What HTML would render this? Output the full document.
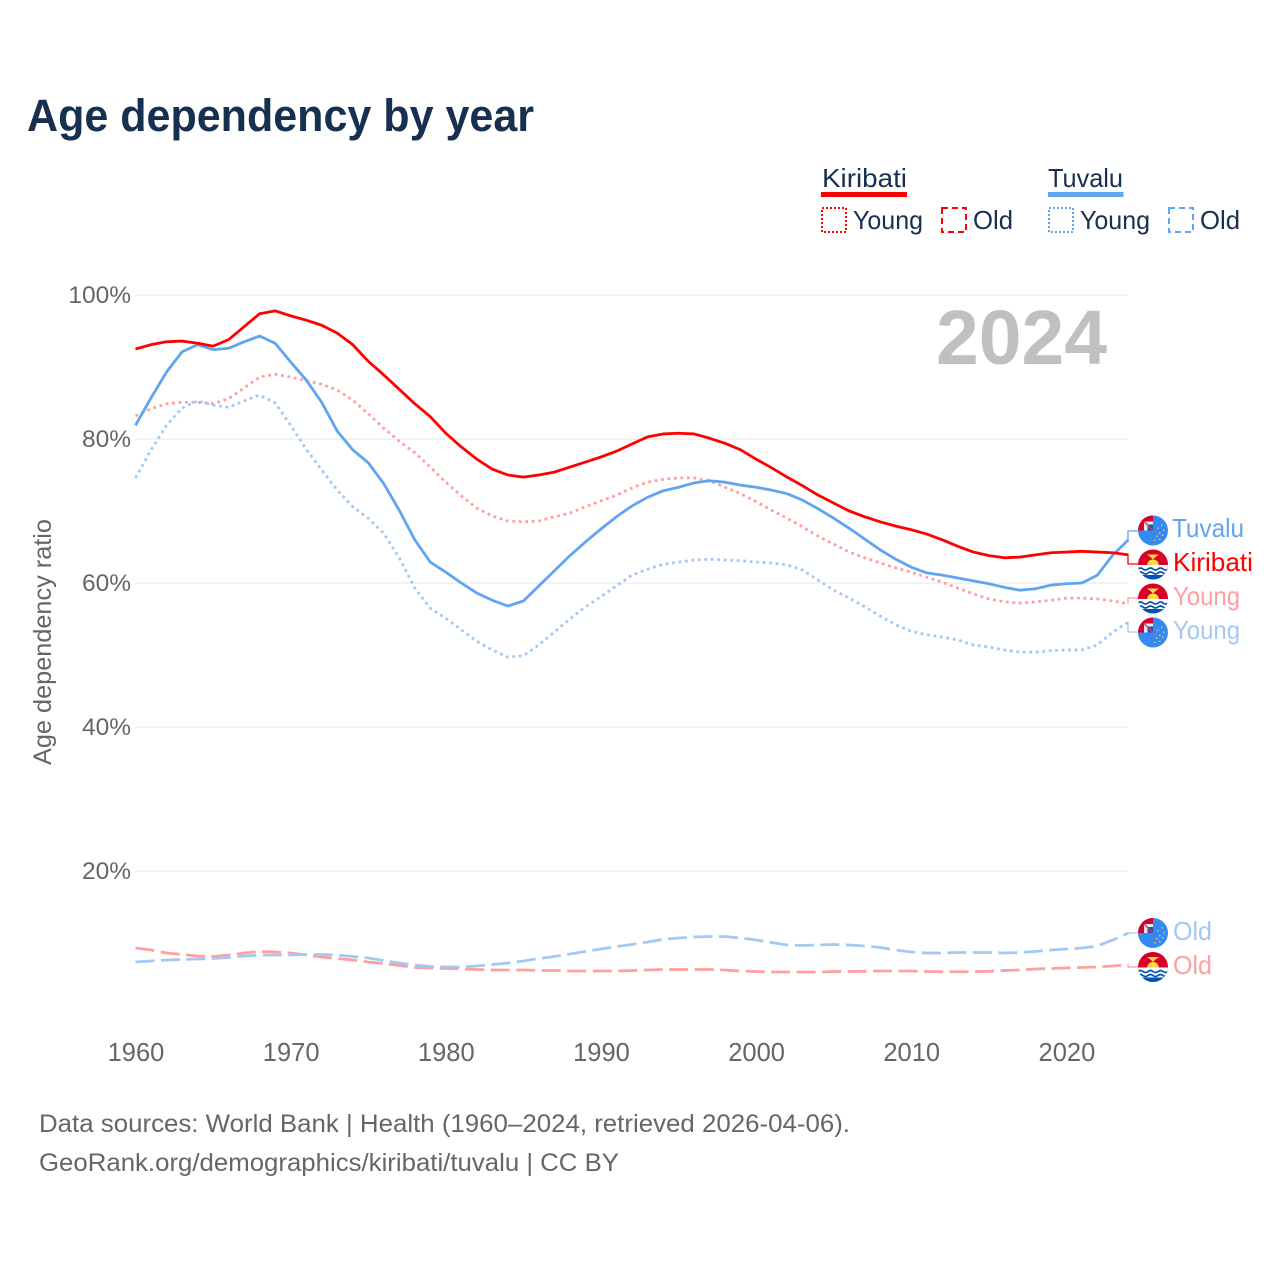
<!DOCTYPE html>
<html lang="en">
<head>
<meta charset="utf-8">
<title>Age dependency by year</title>
<style>
html,body{margin:0;padding:0;background:#fff;width:1280px;height:1280px;overflow:hidden}
svg{display:block}
text{font-family:"Liberation Sans",sans-serif}
</style>
</head>
<body>
<svg id="chart" xmlns="http://www.w3.org/2000/svg" width="1280" height="1280" viewBox="0 0 1280 1280">
<defs>
<clipPath id="flag-clip"><circle cx="0" cy="0" r="15"/></clipPath>
<g id="flag-tuvalu" clip-path="url(#flag-clip)">
<rect x="-15" y="-15" width="30" height="30" fill="#338af3"/>
<rect x="-15" y="-15" width="15" height="15" fill="#d80027"/>
<rect x="-9" y="-9" width="9" height="9" fill="#e8e8f0"/>
<path d="M-5.500,-6H0V0H-5.500Z" fill="#2a4fa8"/>
<path d="M-9,-9L0,0" stroke="#c04060" stroke-width="1.3"/>
<g fill="#e8c24a">
<rect x="8" y="-6" width="1.500" height="1.500"/><rect x="4" y="-3" width="1.500" height="1.500"/><rect x="10" y="-1" width="1.500" height="1.500"/><rect x="6" y="2" width="1.500" height="1.500"/><rect x="3" y="5" width="1.500" height="1.500"/><rect x="9" y="4" width="1.500" height="1.500"/><rect x="1" y="9" width="1.500" height="1.500"/><rect x="6" y="8" width="1.500" height="1.500"/>
</g>
</g>
<g id="flag-kiribati" clip-path="url(#flag-clip)">
<rect x="-15" y="-15" width="30" height="30" fill="#d80027"/>
<path d="M-6,0.500Q-5,-5 0,-5Q5,-5 6,0.500Z" fill="#ffda44"/>
<path d="M-6,-10H6L2,-7L0,-5L-2,-7Z" fill="#ffda44"/>
<rect x="-15" y="0.500" width="30" height="15" fill="#ffffff"/>
<path d="M-15,4.500q2.500,-2 5,0t5,0t5,0t5,0t5,0t5,0M-15,8.500q2.500,-2 5,0t5,0t5,0t5,0t5,0t5,0" fill="none" stroke="#0052b4" stroke-width="1.700"/>
<rect x="-15" y="10.500" width="30" height="6" fill="#0052b4"/>
</g>
</defs>

<text x="27" y="131" font-size="45" font-weight="700" fill="#17304f" textLength="507" lengthAdjust="spacingAndGlyphs">Age dependency by year</text>

<g id="grid"></g>
<g id="y-ticks"></g>
<g id="x-ticks"></g>
<text transform="translate(51,642) rotate(-90)" text-anchor="middle" font-size="25" fill="#666666" textLength="246" lengthAdjust="spacingAndGlyphs">Age dependency ratio</text>
<text x="936" y="364" font-size="77" font-weight="700" fill="#c0c0c0" textLength="171" lengthAdjust="spacingAndGlyphs">2024</text>
<g id="series"></g>
<g id="connectors"></g>

<g font-size="26" fill="#17304f">
<text x="822" y="187" textLength="85" lengthAdjust="spacingAndGlyphs">Kiribati</text>
<rect x="821" y="192" width="86" height="5" fill="#ff0000"/>
<rect x="822" y="208" width="24" height="24" fill="none" stroke="#ff0000" stroke-width="2" stroke-dasharray="2 2"/>
<text x="853" y="229" textLength="70" lengthAdjust="spacingAndGlyphs">Young</text>
<rect x="942" y="208" width="24" height="24" fill="none" stroke="#ff0000" stroke-width="2" stroke-dasharray="6 4"/>
<text x="973" y="229" textLength="40" lengthAdjust="spacingAndGlyphs">Old</text>
<text x="1048" y="187" textLength="75" lengthAdjust="spacingAndGlyphs">Tuvalu</text>
<rect x="1048" y="192" width="75.500" height="5" fill="#60a5f0"/>
<rect x="1049" y="208" width="24" height="24" fill="none" stroke="#60a5f0" stroke-width="2" stroke-dasharray="2 2"/>
<text x="1080" y="229" textLength="70" lengthAdjust="spacingAndGlyphs">Young</text>
<rect x="1169" y="208" width="24" height="24" fill="none" stroke="#60a5f0" stroke-width="2" stroke-dasharray="6 4"/>
<text x="1200" y="229" textLength="40" lengthAdjust="spacingAndGlyphs">Old</text>
</g>

<g font-size="26">
<use href="#flag-tuvalu" x="1153" y="530.500"/>
<text x="1172" y="537" fill="#60a5f0" textLength="72" lengthAdjust="spacingAndGlyphs">Tuvalu</text>
<use href="#flag-kiribati" x="1153" y="564.500"/>
<text x="1173" y="571" fill="#ff0000" textLength="80" lengthAdjust="spacingAndGlyphs">Kiribati</text>
<use href="#flag-kiribati" x="1153" y="598.500"/>
<text x="1173" y="605" fill="#ff9f9f" textLength="67" lengthAdjust="spacingAndGlyphs">Young</text>
<use href="#flag-tuvalu" x="1153" y="632.500"/>
<text x="1173" y="639" fill="#a3c9f3" textLength="67" lengthAdjust="spacingAndGlyphs">Young</text>
<use href="#flag-tuvalu" x="1153" y="933"/>
<text x="1173" y="940" fill="#a3c9f3" textLength="39" lengthAdjust="spacingAndGlyphs">Old</text>
<use href="#flag-kiribati" x="1153" y="967"/>
<text x="1173" y="974" fill="#ff9f9f" textLength="39" lengthAdjust="spacingAndGlyphs">Old</text>
</g>

<g font-size="25" fill="#666666">
<text x="39" y="1132" textLength="811" lengthAdjust="spacingAndGlyphs">Data sources: World Bank | Health (1960–2024, retrieved 2026-04-06).</text>
<text x="39" y="1171" textLength="580" lengthAdjust="spacingAndGlyphs">GeoRank.org/demographics/kiribati/tuvalu | CC BY</text>
</g>
</svg>

<script>
const firstYear = 1960;
const yTickValues = [20, 40, 60, 80, 100];
const xTickYears = [1960, 1970, 1980, 1990, 2000, 2010, 2020];

const kiribatiTotal = [92.5,93.1,93.5,93.6,93.3,92.9,93.8,95.6,97.4,97.8,97.1,96.5,95.8,94.7,93.1,90.8,88.9,86.9,84.9,83.1,80.8,78.9,77.2,75.8,75.0,74.7,75.0,75.4,76.1,76.8,77.5,78.3,79.3,80.3,80.7,80.8,80.7,80.1,79.4,78.5,77.2,76.0,74.7,73.5,72.2,71.1,70.0,69.2,68.5,67.9,67.4,66.8,66.0,65.1,64.3,63.8,63.5,63.6,63.9,64.2,64.3,64.4,64.3,64.2,63.9];
const tuvaluTotal = [81.9,85.7,89.3,92.1,93.1,92.4,92.6,93.5,94.3,93.3,90.7,88.2,85.1,81.1,78.5,76.7,73.8,70.1,66.0,62.9,61.5,60.0,58.6,57.6,56.8,57.5,59.6,61.7,63.8,65.7,67.5,69.2,70.7,71.9,72.8,73.3,73.9,74.2,74.0,73.6,73.3,72.9,72.4,71.5,70.3,69.0,67.6,66.1,64.6,63.3,62.2,61.4,61.1,60.7,60.3,59.9,59.4,59.0,59.2,59.7,59.9,60.0,61.1,63.9,66.0];
const kiribatiYoung = [83.2,84.2,84.9,85.1,85.1,84.9,85.6,87.1,88.6,89.0,88.6,88.1,87.6,86.8,85.4,83.5,81.5,79.7,78.1,76.1,74.0,72.1,70.4,69.3,68.6,68.5,68.6,69.2,69.7,70.6,71.4,72.2,73.2,74.0,74.4,74.6,74.6,74.2,73.3,72.4,71.3,70.1,69.0,67.8,66.5,65.4,64.3,63.5,62.8,62.1,61.5,60.8,60.1,59.3,58.5,57.8,57.4,57.2,57.4,57.6,57.9,57.9,57.8,57.5,57.1];
const tuvaluYoung = [74.6,78.5,81.9,84.3,85.3,84.7,84.4,85.3,86.1,85.0,81.9,78.6,75.7,72.9,70.6,69.0,66.9,63.5,59.3,56.5,55.1,53.5,51.9,50.7,49.7,49.9,51.4,53.2,55.0,56.7,58.1,59.6,61.1,61.9,62.6,62.9,63.2,63.3,63.2,63.1,62.9,62.8,62.5,61.8,60.4,59.0,57.9,56.7,55.4,54.2,53.3,52.8,52.5,52.1,51.4,51.1,50.7,50.4,50.4,50.6,50.7,50.7,51.4,53.2,54.6];
const kiribatiOld = [9.31,9.03,8.61,8.40,8.19,8.13,8.33,8.61,8.82,8.75,8.61,8.33,8.06,7.85,7.64,7.36,7.15,6.88,6.60,6.53,6.46,6.39,6.32,6.25,6.25,6.25,6.18,6.18,6.11,6.11,6.11,6.11,6.18,6.25,6.32,6.32,6.32,6.32,6.25,6.11,6.04,5.97,5.97,5.97,5.97,6.04,6.04,6.07,6.11,6.11,6.11,6.04,6.01,6.01,6.01,6.07,6.18,6.25,6.39,6.46,6.53,6.60,6.67,6.81,7.01];
const tuvaluOld = [7.36,7.50,7.64,7.71,7.78,7.85,7.99,8.19,8.33,8.33,8.33,8.40,8.40,8.33,8.13,7.92,7.57,7.22,6.94,6.74,6.67,6.67,6.81,7.01,7.22,7.50,7.85,8.13,8.47,8.82,9.17,9.51,9.79,10.14,10.49,10.69,10.83,10.90,10.90,10.69,10.42,10.07,9.72,9.65,9.72,9.79,9.72,9.58,9.38,9.03,8.75,8.61,8.61,8.68,8.68,8.68,8.61,8.68,8.82,9.03,9.17,9.31,9.58,10.42,11.39];

const SVG_NS = 'http://www.w3.org/2000/svg';
function xScale(year) { return 135.5 + (year - 1960) * 15.515; }
function yScale(value) { return 1015 - value * 7.2; }

const gridGroup = document.getElementById('grid');
const yTickGroup = document.getElementById('y-ticks');
yTickValues.forEach(function (value) {
  const line = document.createElementNS(SVG_NS, 'line');
  
  
  line.setAttribute('x1', 135);
  line.setAttribute('x2', 1128);
  line.setAttribute('y1', yScale(value));
  line.setAttribute('y2', yScale(value));
  line.setAttribute('stroke', '#e9e9e9');
  line.setAttribute('stroke-width', 1.2);
  gridGroup.appendChild(line);

  const label = document.createElementNS(SVG_NS, 'text');
  
  
  label.setAttribute('x', 131);
  label.setAttribute('y', yScale(value) + 8);
  label.setAttribute('text-anchor', 'end');
  label.setAttribute('font-size', 24.5);
  label.setAttribute('fill', '#666666');
  label.textContent = value + '%';
  yTickGroup.appendChild(label);
});

const xTickGroup = document.getElementById('x-ticks');
xTickYears.forEach(function (year) {
  const label = document.createElementNS(SVG_NS, 'text');
  
  
  label.setAttribute('x', xScale(year) + 0.5);
  label.setAttribute('y', 1061);
  label.setAttribute('text-anchor', 'middle');
  label.setAttribute('font-size', 25.5);
  label.setAttribute('fill', '#666666');
  label.textContent = year;
  xTickGroup.appendChild(label);
});

const seriesGroup = document.getElementById('series');
function drawSeries(values, name, colour, dash) {
  const path = document.createElementNS(SVG_NS, 'path');
  
  
  const d = values.map(function (value, i) {
    return (i ? 'L' : 'M') + xScale(firstYear + i).toFixed(2) + ',' + yScale(value).toFixed(2);
  }).join('');
  path.setAttribute('d', d);
  path.setAttribute('fill', 'none');
  path.setAttribute('stroke', colour);
  path.setAttribute('stroke-width', 2.8);
  path.setAttribute('stroke-linejoin', 'round');
  if (dash) path.setAttribute('stroke-dasharray', dash);
  seriesGroup.appendChild(path);
}
drawSeries(kiribatiOld, 'line-kiribati-old', '#ff9f9f', '19 6.5');
drawSeries(tuvaluOld, 'line-tuvalu-old', '#a3c9f3', '19 6.5');
drawSeries(kiribatiYoung, 'line-kiribati-young', '#ff9f9f', '2.8 3.7');
drawSeries(tuvaluYoung, 'line-tuvalu-young', '#a3c9f3', '2.8 3.7');
drawSeries(tuvaluTotal, 'line-tuvalu-total', '#60a5f0', null);
drawSeries(kiribatiTotal, 'line-kiribati-total', '#ff0000', null);

const connectorGroup = document.getElementById('connectors');
function drawConnector(values, name, colour, labelY) {
  const path = document.createElementNS(SVG_NS, 'path');
  
  
  const endY = yScale(values[values.length - 1]);
  path.setAttribute('d', 'M1128,' + endY.toFixed(2) + 'V' + labelY + 'H1138');
  path.setAttribute('fill', 'none');
  path.setAttribute('stroke', colour);
  path.setAttribute('stroke-width', 1.3);
  connectorGroup.appendChild(path);
}
drawConnector(tuvaluTotal, 'connector-tuvalu', '#60a5f0', 531);
drawConnector(kiribatiTotal, 'connector-kiribati', '#ff0000', 564);
drawConnector(kiribatiYoung, 'connector-kiribati-young', '#ff9f9f', 598);
drawConnector(tuvaluYoung, 'connector-tuvalu-young', '#a3c9f3', 632);
drawConnector(tuvaluOld, 'connector-tuvalu-old', '#a3c9f3', 933);
drawConnector(kiribatiOld, 'connector-kiribati-old', '#ff9f9f', 967);
</script>
</body>
</html>
